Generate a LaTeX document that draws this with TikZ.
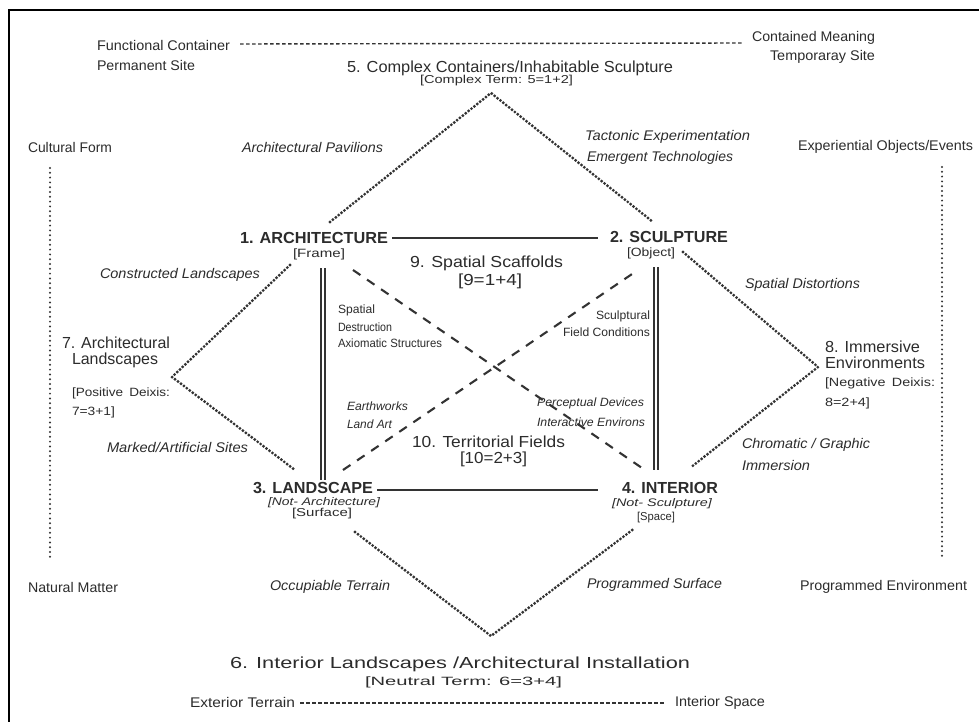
\documentclass[tikz,border=0pt]{standalone}
\usepackage{graphicx}
\usepackage{fontspec}
\setmainfont{Liberation Sans}
\definecolor{ink}{HTML}{2C2C2C}
\definecolor{stroke}{HTML}{333333}
\newcommand\fw[2]{\resizebox{#1pt}{\height}{#2}}
\newcommand\fsz[1]{\fontsize{#1}{#1}\selectfont}
\begin{document}
\begin{tikzpicture}[x=1pt,y=-1pt,
  every node/.style={inner sep=0pt,outer sep=0pt,text=ink,anchor=west},
  lbl/.style={font=\fsz{14}},
  ital/.style={font=\fsz{14}\itshape},
  big/.style={font=\fsz{16}},
  head/.style={font=\fsz{16}\bfseries},
  termtxt/.style={font=\fsz{12}},
  termsq/.style={font=\fsz{11.5}},
  termit/.style={font=\fsz{11}\itshape},
  note/.style={font=\fsz{12}},
  noteit/.style={font=\fsz{12}\itshape},
  dotdiam/.style={draw=stroke,line width=3.2pt,line cap=round,dash pattern=on 0pt off 3.7pt},
  sideline/.style={draw=stroke,line width=2.2pt,line cap=round,dash pattern=on 0pt off 4.8pt},
  hdash/.style={draw=stroke,line width=1.4pt,dash pattern=on 3.5pt off 2.5pt},
  diagdash/.style={draw=stroke,line width=2.1pt,dash pattern=on 9pt off 8pt},
  solidline/.style={draw=stroke,line width=2.1pt},
  dblline/.style={draw=stroke,line width=1.5pt,double=white,double distance=2.2pt}
]
\useasboundingbox (0,0) rectangle (979,722);
\fill[white] (0,0) rectangle (979,722);
% frame
\draw[stroke,line width=1.3pt] (9,722) -- (9,10) -- (979,10);

% top row
\node[lbl] (fc) at (97,45) {\fw{133}{Functional Container}};
\node[lbl] (ps) at (97,65) {\fw{98}{Permanent Site}};
\node[lbl] (cm) at (752,38) {\fw{123}{Contained Meaning}};
\node[lbl] (tsite) at (770,57) {\fw{105}{Temporaray Site}};
\node[big] (t5) at (347,68) {\fw{326}{5. Complex Containers/Inhabitable Sculpture}};
\node[termsq] (t5b) at (420,81) {\fw{153}{[Complex Term: 5=1+2]}};
\coordinate (topL) at (240,44);
\coordinate (topR) at (742,43);
\draw[hdash] (topL) -- (topR);

\node[lbl] (cult) at (28,147) {\fw{84}{Cultural Form}};
\node[ital] (pav) at (242,147) {\fw{141}{Architectural Pavilions}};
\node[ital] (tact) at (585,137) {\fw{165}{Tactonic Experimentation}};
\node[ital] (emer) at (587,158) {\fw{146}{Emergent Technologies}};
\node[lbl] (expo) at (798,147) {\fw{175}{Experiential Objects/Events}};

% side lines
\coordinate (sLt) at (50,168); \coordinate (sLb) at (50,560);
\coordinate (sRt) at (942,167); \coordinate (sRb) at (942,558);
\draw[sideline] (sLt) -- (sLb);
\draw[sideline] (sRt) -- (sRb);

% main nodes
\node[head] (n1) at (240,238) {\fw{148}{1. ARCHITECTURE}};
\node[termtxt] (frame) at (293,254) {\fw{52}{[Frame]}};
\node[head] (n2) at (610,237) {\fw{118}{2. SCULPTURE}};
\node[termtxt] (obj) at (627,253) {\fw{48}{[Object]}};
\node[head] (n3) at (253,488) {\fw{120}{3. LANDSCAPE}};
\node[termit] (na) at (268,503) {\fw{112}{[Not- Architecture]}};
\node[termsq] (surf) at (292,514) {\fw{60}{[Surface]}};
\node[head] (n4) at (622,488) {\fw{96}{4. INTERIOR}};
\node[termit] (ns) at (612,504) {\fw{100}{[Not- Sculpture]}};
\node[termsq] (spc) at (637,518) {\fw{38}{[Space]}};

\node[big] (t9) at (410,263) {\fw{153}{9. Spatial Scaffolds}};
\node[big] (t9b) at (458,281) {\fw{64}{[9=1+4]}};
\node[big] (t10) at (412,442) {\fw{153}{10. Territorial Fields}};
\node[big] (t10b) at (460,459) {\fw{67}{[10=2+3]}};

\node[ital] (constr) at (100,275) {\fw{160}{Constructed Landscapes}};
\node[ital] (spdist) at (745,285) {\fw{115}{Spatial Distortions}};
\node[ital] (marked) at (107,447) {\fw{141}{Marked/Artificial Sites}};
\node[ital] (chrom) at (742,445) {\fw{128}{Chromatic / Graphic}};
\node[ital] (imm) at (742,465) {\fw{68}{Immersion}};

\node[note] (sd1) at (338,310) {\fw{37}{Spatial}};
\node[note] (sd2) at (338,327) {\fw{54}{Destruction}};
\node[note] (sd3) at (338,343) {\fw{104}{Axiomatic Structures}};
\node[note,anchor=east] (sc1) at (650,316) {\fw{54}{Sculptural}};
\node[note,anchor=east] (sc2) at (650,332) {\fw{87}{Field Conditions}};
\node[noteit] (ew1) at (347,406) {\fw{61}{Earthworks}};
\node[noteit] (ew2) at (347,424) {\fw{45}{Land Art}};
\node[noteit] (pd1) at (537,403) {\fw{107}{Perceptual Devices}};
\node[noteit] (pd2) at (537,422) {\fw{108}{Interactive Environs}};

\node[big] (t7a) at (62,343) {\fw{108}{7. Architectural}};
\node[big] (t7b) at (72,360) {\fw{86}{Landscapes}};
\node[termtxt] (t7c) at (72,393) {\fw{98}{[Positive\, Deixis:}};
\node[termtxt] (t7d) at (72,412) {\fw{43}{7=3+1]}};
\node[big] (t8a) at (825,347) {\fw{95}{8. Immersive}};
\node[big] (t8b) at (825,363) {\fw{100}{Environments}};
\node[termtxt] (t8c) at (825,383) {\fw{110}{[Negative\, Deixis:}};
\node[termtxt] (t8d) at (825,403) {\fw{45}{8=2+4]}};

\node[lbl] (nat) at (28,587) {\fw{90}{Natural Matter}};
\node[ital] (occ) at (270,587) {\fw{120}{Occupiable Terrain}};
\node[ital] (progs) at (587,585) {\fw{135}{Programmed Surface}};
\node[lbl] (proge) at (800,587) {\fw{167}{Programmed Environment}};

\node[big] (t6) at (230,664) {\fw{460}{6. Interior Landscapes /Architectural Installation}};
\node[termtxt] (t6b) at (365,682) {\fw{197}{[Neutral Term: 6=3+4]}};
\node[lbl] (ext) at (190,702) {\fw{105}{Exterior Terrain}};
\node[lbl] (ints) at (675,703) {\fw{90}{Interior Space}};
\coordinate (botL) at (300,703);
\coordinate (botR) at (665,703);
\draw[hdash] (botL) -- (botR);

% diamond vertices and ends
\coordinate (v5) at (491,93);
\coordinate (v7) at (172,377);
\coordinate (v8) at (818,367);
\coordinate (v6) at (491,636);
\coordinate (a5) at (330,222); \coordinate (b5) at (653,222);
\coordinate (a7) at (290,265); \coordinate (b7) at (295,470);
\coordinate (a8) at (683,252); \coordinate (b8) at (690,468);
\coordinate (a6) at (355,532); \coordinate (b6) at (635,528);
\draw[dotdiam] (a5) -- (v5) -- (b5);
\draw[dotdiam] (a7) -- (v7) -- (b7);
\draw[dotdiam] (a8) -- (v8) -- (b8);
\draw[dotdiam] (a6) -- (v6) -- (b6);

% square edges
\coordinate (h1a) at (392,238); \coordinate (h1b) at (598,238);
\coordinate (h2a) at (377,490); \coordinate (h2b) at (598,490);
\draw[solidline] (h1a) -- (h1b);
\draw[solidline] (h2a) -- (h2b);
\coordinate (d1a) at (323,268); \coordinate (d1b) at (323,480);
\coordinate (d2a) at (656,267); \coordinate (d2b) at (656,470);
\draw[dblline] (d1a) -- (d1b);
\draw[dblline] (d2a) -- (d2b);
\coordinate (x1a) at (353,270); \coordinate (x1b) at (642,468);
\coordinate (x2a) at (343,470); \coordinate (x2b) at (638,270);
\draw[diagdash] (x1a) -- (x1b);
\draw[diagdash] (x2a) -- (x2b);
\end{tikzpicture}
\end{document}
